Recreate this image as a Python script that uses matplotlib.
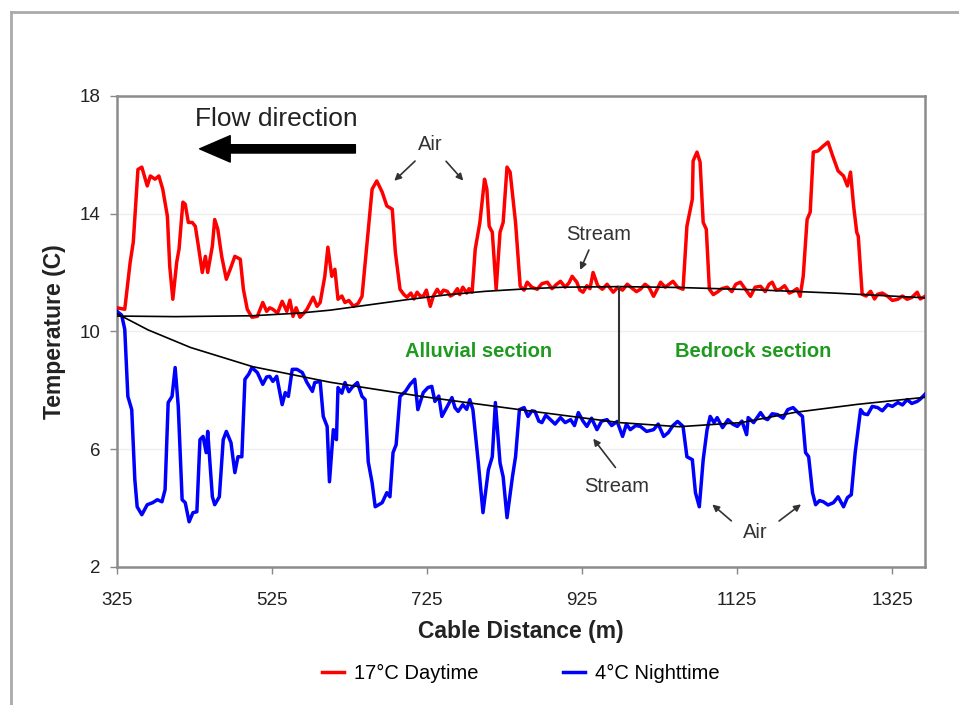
import numpy as np
import matplotlib
matplotlib.use("Agg")
import matplotlib.pyplot as plt
from matplotlib.lines import Line2D

plt.rcParams['font.family'] = ['Liberation Sans', 'DejaVu Sans']

# cable distance (m) / temperature (C)
day_x = [325, 335, 342, 346, 352, 357, 364, 368, 374, 379, 384, 390, 393, 397, 402, 405,
         410, 413, 417, 422, 426, 430, 435, 439, 442, 448, 451, 455, 460, 466, 471, 477,
         484, 488, 493, 499, 506, 513, 518, 522, 526, 532, 538, 544, 548, 552, 556, 561,
         566, 570, 574, 578, 583, 587, 593, 597, 602, 606, 610, 615, 619, 624, 630, 636,
         641, 648, 654, 660, 667, 673, 680, 684, 690, 695, 699, 704, 708, 712, 716, 720,
         724, 729, 733, 738, 742, 746, 751, 755, 759, 764, 767, 771, 776, 779, 783, 787,
         793, 799, 802, 805, 809, 814, 819, 823, 828, 832, 839, 845, 850, 854, 860, 867,
         873, 880, 886, 892, 897, 903, 908, 912, 918, 922, 926, 931, 935, 939, 945, 951,
         957, 965, 971, 977, 983, 990, 995, 1000, 1006, 1011, 1017, 1022, 1026, 1032,
         1037, 1042, 1048, 1055, 1060, 1067, 1068, 1073, 1077, 1081, 1085, 1089, 1094,
         1099, 1105, 1112, 1118, 1123, 1129, 1135, 1142, 1148, 1155, 1161, 1166, 1170,
         1175, 1180, 1186, 1192, 1197, 1202, 1206, 1210, 1215, 1219, 1223, 1229, 1236,
         1242, 1248, 1255, 1262, 1267, 1271, 1275, 1279, 1281, 1286, 1291, 1297, 1302,
         1306, 1312, 1319, 1325, 1332, 1338, 1344, 1350, 1357, 1361, 1367]
day_y = [10.80, 10.75, 12.35, 13.03, 15.50, 15.58, 14.94, 15.28, 15.17, 15.28, 14.83, 13.91,
         12.21, 11.09, 12.35, 12.79, 14.39, 14.32, 13.70, 13.70, 13.57, 12.89, 12.00, 12.55,
         12.00, 12.90, 13.80, 13.47, 12.55, 11.77, 12.11, 12.55, 12.45, 11.43, 10.75, 10.48,
         10.51, 10.98, 10.68, 10.80, 10.75, 10.62, 11.02, 10.68, 11.06, 10.51, 10.80, 10.48,
         10.62, 10.75, 10.95, 11.16, 10.85, 10.98, 11.87, 12.86, 11.87, 12.11, 11.09, 11.20,
         10.98, 11.05, 10.85, 10.95, 11.19, 13.13, 14.83, 15.11, 14.73, 14.26, 14.15, 12.69,
         11.43, 11.25, 11.16, 11.30, 11.10, 11.33, 11.20, 11.19, 11.40, 10.85, 11.20, 11.43,
         11.25, 11.40, 11.36, 11.20, 11.26, 11.45, 11.25, 11.50, 11.30, 11.45, 11.33, 12.79,
         13.70, 15.17, 14.83, 13.57, 13.37, 11.43, 13.37, 13.70, 15.58, 15.41, 13.70, 11.53,
         11.40, 11.67, 11.50, 11.43, 11.62, 11.67, 11.45, 11.60, 11.70, 11.50, 11.65, 11.87,
         11.67, 11.40, 11.33, 11.55, 11.45, 12.00, 11.55, 11.43, 11.60, 11.33, 11.50, 11.40,
         11.60, 11.45, 11.35, 11.43, 11.60, 11.50, 11.19, 11.45, 11.67, 11.50, 11.60, 11.70,
         11.50, 11.43, 13.57, 14.49, 15.79, 16.09, 15.75, 13.70, 13.47, 11.43, 11.25, 11.33,
         11.45, 11.50, 11.35, 11.60, 11.67, 11.45, 11.19, 11.50, 11.53, 11.35, 11.60, 11.67,
         11.40, 11.43, 11.55, 11.30, 11.36, 11.45, 11.19, 11.87, 13.80, 14.05, 16.09, 16.13,
         16.30, 16.43, 15.96, 15.45, 15.28, 14.94, 15.41, 14.26, 13.37, 13.23, 11.26, 11.20,
         11.36, 11.10, 11.26, 11.30, 11.19, 11.05, 11.09, 11.20, 11.09, 11.15, 11.33, 11.10,
         11.19]

night_x = [325, 331, 335, 339, 344, 348, 351, 357, 364, 371, 377, 383, 387, 391, 396, 400, 404,
           409, 413, 418, 423, 428, 432, 436, 440, 442, 448, 451, 457, 462, 466, 472, 477,
           481, 486, 490, 495, 499, 506, 513, 518, 522, 526, 531, 538, 542, 546, 551, 557,
           564, 570, 577, 580, 587, 591, 596, 599, 604, 608, 610, 615, 619, 624, 628, 635,
           641, 645, 649, 654, 658, 667, 673, 677, 681, 685, 690, 697, 703, 709, 713, 720,
           726, 731, 735, 740, 744, 751, 757, 761, 765, 771, 776, 780, 784, 791, 797, 804,
           809, 813, 819, 823, 828, 835, 839, 844, 850, 855, 860, 864, 869, 873, 878, 884,
           890, 897, 903, 910, 915, 920, 926, 931, 937, 944, 950, 957, 963, 970, 977, 982,
           987, 994, 1000, 1008, 1017, 1023, 1030, 1036, 1042, 1048, 1055, 1060, 1067, 1071,
           1076, 1081, 1086, 1090, 1095, 1099, 1106, 1113, 1119, 1125, 1131, 1137, 1139,
           1146, 1155, 1160, 1164, 1170, 1177, 1184, 1190, 1197, 1203, 1209, 1213, 1217,
           1222, 1226, 1231, 1236, 1242, 1249, 1255, 1262, 1267, 1272, 1277, 1284, 1288,
           1293, 1299, 1306, 1312, 1319, 1325, 1332, 1338, 1344, 1350, 1357, 1361, 1367]
night_y = [10.68, 10.55, 10.07, 7.79, 7.34, 4.96, 4.04, 3.77, 4.11, 4.18, 4.28, 4.21, 4.62, 7.58,
           7.79, 8.77, 7.45, 4.28, 4.18, 3.53, 3.84, 3.87, 6.32, 6.43, 5.88, 6.60, 4.38, 4.11,
           4.38, 6.32, 6.60, 6.22, 5.20, 5.74, 5.74, 8.37, 8.55, 8.77, 8.60, 8.20, 8.45, 8.47,
           8.30, 8.47, 7.51, 7.92, 7.79, 8.71, 8.71, 8.60, 8.26, 7.96, 8.26, 8.30, 7.11, 6.77,
           4.89, 6.66, 6.32, 8.09, 7.90, 8.26, 7.95, 8.09, 8.26, 7.79, 7.68, 5.57, 4.86, 4.04,
           4.18, 4.52, 4.38, 5.88, 6.15, 7.79, 7.96, 8.20, 8.37, 7.34, 7.92, 8.09, 8.13, 7.62,
           7.80, 7.11, 7.45, 7.75, 7.40, 7.28, 7.51, 7.35, 7.68, 7.34, 5.53, 3.84, 5.30, 5.74,
           7.58, 5.53, 5.06, 3.67, 5.06, 5.74, 7.34, 7.41, 7.11, 7.30, 7.28, 6.95, 6.90, 7.15,
           7.00, 6.85, 7.07, 6.90, 7.00, 6.80, 7.24, 6.95, 6.77, 7.05, 6.66, 6.95, 7.00, 6.80,
           6.94, 6.43, 6.85, 6.66, 6.80, 6.77, 6.60, 6.66, 6.85, 6.43, 6.56, 6.80, 6.94, 6.77,
           5.74, 5.64, 4.52, 4.04, 5.64, 6.66, 7.11, 6.90, 7.07, 6.73, 7.00, 6.85, 6.77, 6.95,
           6.49, 7.07, 6.90, 7.24, 7.05, 7.00, 7.20, 7.17, 7.05, 7.34, 7.41, 7.25, 7.11, 5.88,
           5.74, 4.52, 4.11, 4.25, 4.21, 4.10, 4.18, 4.38, 4.04, 4.35, 4.45, 5.88, 7.34, 7.20,
           7.17, 7.45, 7.41, 7.30, 7.51, 7.45, 7.58, 7.50, 7.68, 7.55, 7.62, 7.70, 7.86]

# smooth "stream" envelopes drawn in black
up_x = [325, 400, 500, 560, 600, 650, 700, 750, 800, 850, 900, 975, 1050, 1150, 1250, 1367]
up_y = [10.52, 10.50, 10.53, 10.62, 10.72, 10.90, 11.08, 11.24, 11.36, 11.44, 11.50, 11.52,
        11.49, 11.41, 11.30, 11.14]
lo_x = [325, 365, 420, 500, 600, 720, 850, 920, 973, 1050, 1130, 1200, 1280, 1367]
lo_y = [10.60, 10.05, 9.45, 8.80, 8.27, 7.78, 7.32, 7.08, 6.90, 6.76, 6.90, 7.25, 7.52, 7.76]
split_x = 973

xticks = [325, 525, 725, 925, 1125, 1325]
yticks = [2, 6, 10, 14, 18]

fig = plt.figure(figsize=(9.59, 7.05), dpi=100)
ax = fig.add_axes([0.122, 0.196, 0.8425, 0.668])

ax.plot(day_x, day_y, color='#ff0000', lw=2.5, label='17\u00b0C Daytime', zorder=3)
ax.plot(night_x, night_y, color='#0000ff', lw=2.5, label='4\u00b0C Nighttime', zorder=3)
ax.plot(up_x, up_y, color='black', lw=1.2, zorder=4)
ax.plot(lo_x, lo_y, color='black', lw=1.2, zorder=4)
ax.plot([split_x, split_x], [6.9, 11.52], color='#333333', lw=1.5, zorder=4)

ax.set_xlim(325, 1367)
ax.set_ylim(2, 18)
ax.set_xticks(xticks)
ax.set_yticks(yticks)
ax.tick_params(axis='both', colors='#888888', labelcolor='#222222', labelsize=13.5,
               length=5, width=1)
ax.tick_params(axis='x', pad=13)
ax.tick_params(axis='y', pad=7)
ax.grid(axis='y', color='#eeeeee', lw=1)
ax.set_axisbelow(True)
for s in ax.spines.values():
    s.set_color('#8c8c8c')
    s.set_linewidth(1.8)

ax.set_xlabel('Cable Distance (m)', fontsize=16.5, fontweight='bold', labelpad=8,
              color='#222222')
ax.set_ylabel('Temperature (C)', fontsize=16.5, fontweight='bold', labelpad=10,
              color='#222222')

# annotations
ax.text(531, 17.22, 'Flow direction', fontsize=19, ha='center', va='center', color='#222222')
ax.annotate('', xy=(428, 16.2), xytext=(636, 16.2),
            arrowprops=dict(arrowstyle='simple,head_length=1.1,head_width=0.95,tail_width=0.3',
                            fc='black', ec='black', mutation_scale=20))

akw = dict(arrowstyle='-|>', color='#333333', lw=1.2, mutation_scale=10)
ax.text(729, 16.35, 'Air', fontsize=14.5, ha='center', va='center', color='#333333')
ax.annotate('', xy=(680, 15.05), xytext=(712, 15.85), arrowprops=akw)
ax.annotate('', xy=(774, 15.05), xytext=(747, 15.85), arrowprops=akw)

ax.text(946, 13.3, 'Stream', fontsize=14.5, ha='center', va='center', color='#333333')
ax.annotate('', xy=(921, 12.0), xytext=(935, 12.85), arrowprops=akw)

ax.text(970, 4.72, 'Stream', fontsize=14.5, ha='center', va='center', color='#333333')
ax.annotate('', xy=(937, 6.43), xytext=(970, 5.3), arrowprops=akw)

ax.text(1148, 3.16, 'Air', fontsize=14.5, ha='center', va='center', color='#333333')
ax.annotate('', xy=(1090, 4.18), xytext=(1120, 3.5), arrowprops=akw)
ax.annotate('', xy=(1210, 4.18), xytext=(1176, 3.5), arrowprops=akw)

ax.text(791, 9.32, 'Alluvial section', fontsize=14.5, fontweight='bold', color='#1f9a1f',
        ha='center', va='center')
ax.text(1145, 9.32, 'Bedrock section', fontsize=14.5, fontweight='bold', color='#1f9a1f',
        ha='center', va='center')

leg = ax.legend(loc='upper center', bbox_to_anchor=(0.5, -0.168), ncol=2, frameon=False,
                fontsize=14.5, handlelength=1.1, columnspacing=4.2, handletextpad=0.5)

# outer frame of the original picture
fig.add_artist(Line2D([11 / 959, 11 / 959], [0, 1 - 12 / 705], transform=fig.transFigure,
                      color='#aaaaaa', lw=2))
fig.add_artist(Line2D([11 / 959, 1], [1 - 12 / 705, 1 - 12 / 705], transform=fig.transFigure,
                      color='#aaaaaa', lw=2))

fig.savefig('out.png', dpi=100)
